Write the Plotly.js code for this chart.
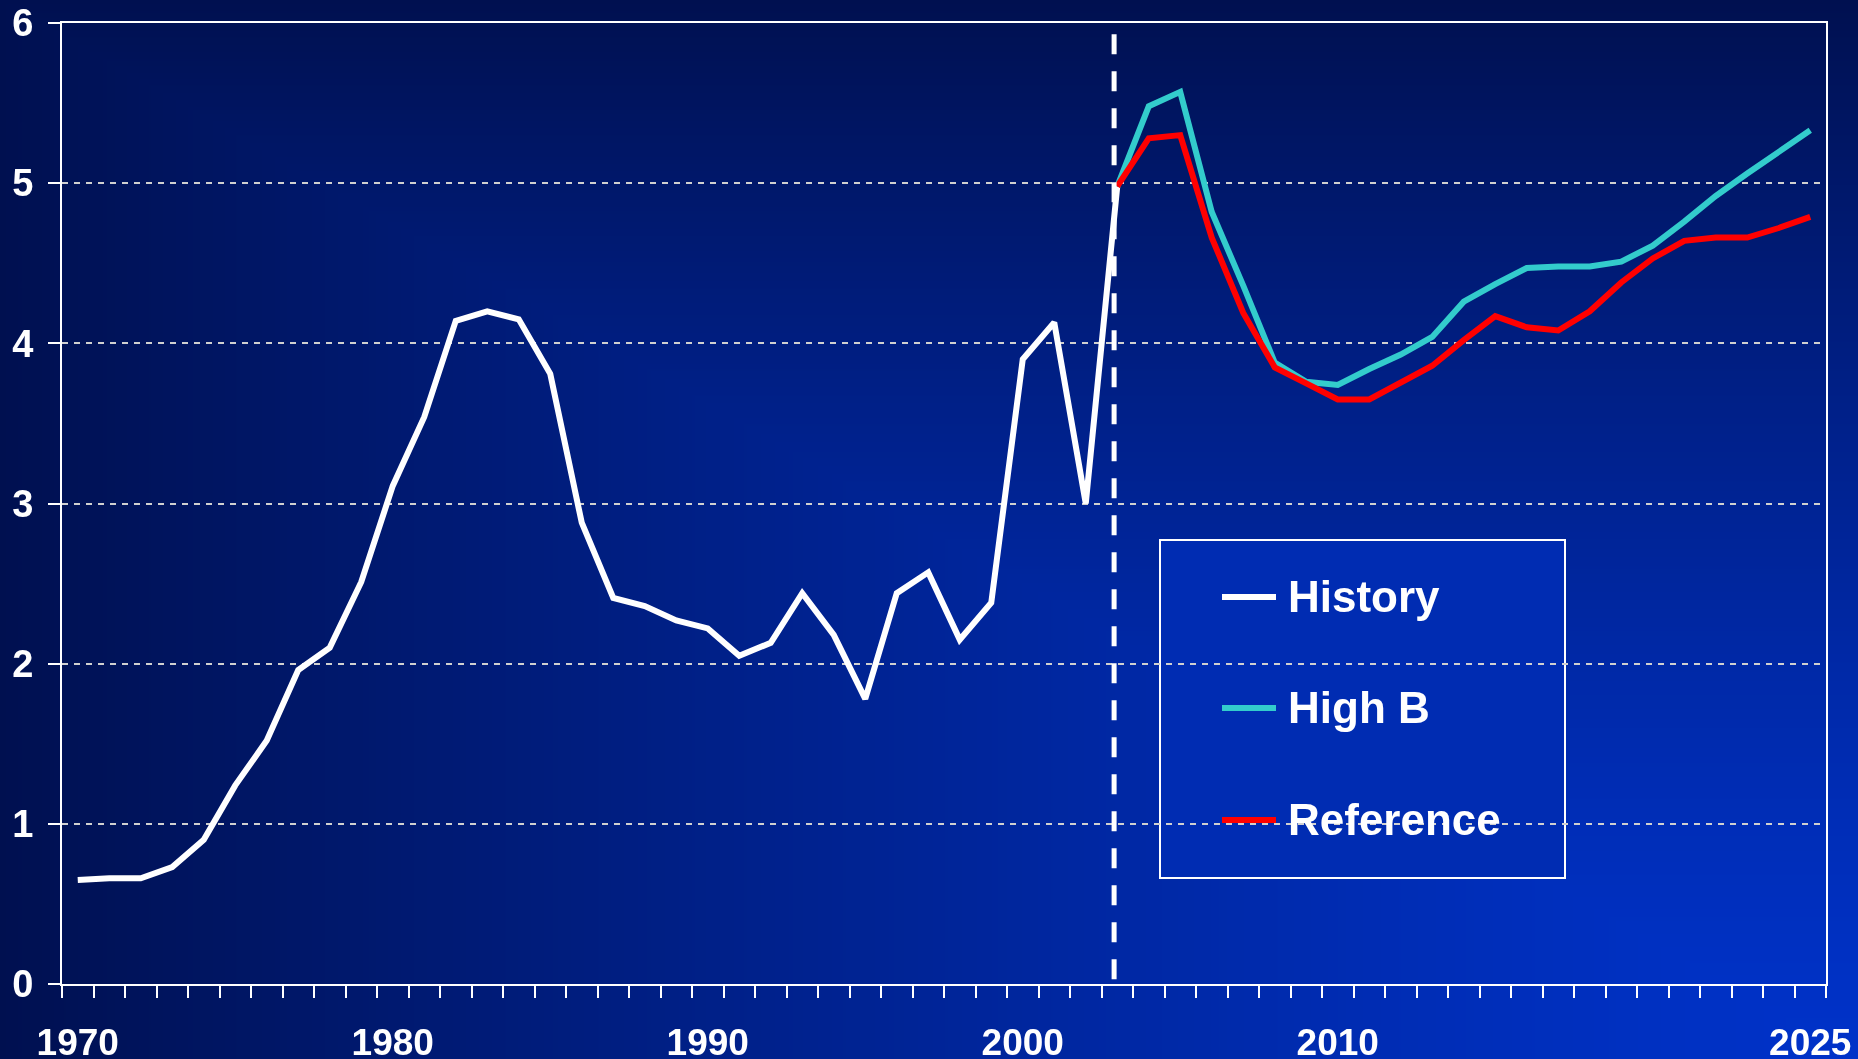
<!DOCTYPE html>
<html>
<head>
<meta charset="utf-8">
<script src="https://cdn.plot.ly/plotly-3.0.1.min.js"></script>
<style>
  html, body { margin: 0; padding: 0; background: #001050; }
  #bg { position: absolute; left: 0; top: 0; }
  #chart { position: absolute; left: 0; top: 0; width: 1858px; height: 1059px; }
</style>
</head>
<body>
<canvas id="bg" width="1858" height="1059"></canvas>
<div id="chart"></div>
<script>
// ---- Data ----
const historyYears = [1970,1971,1972,1973,1974,1975,1976,1977,1978,1979,
                      1980,1981,1982,1983,1984,1985,1986,1987,1988,1989,
                      1990,1991,1992,1993,1994,1995,1996,1997,1998,1999,
                      2000,2001,2002,2003];
const historyValues = [0.65,0.66,0.66,0.73,0.90,1.24,1.52,1.96,2.10,2.51,
                       3.11,3.54,4.14,4.20,4.15,3.81,2.88,2.41,2.36,2.27,
                       2.22,2.05,2.13,2.44,2.18,1.78,2.44,2.57,2.15,2.38,
                       3.90,4.13,3.00,4.98];
const projYears = [2003,2004,2005,2006,2007,2008,2009,2010,2011,2012,
                   2013,2014,2015,2016,2017,2018,2019,2020,2021,2022,
                   2023,2024,2025];
const highBValues = [4.98,5.48,5.57,4.82,4.36,3.88,3.76,3.74,3.84,3.93,
                     4.04,4.26,4.37,4.47,4.48,4.48,4.51,4.61,4.76,4.92,
                     5.06,5.20,5.33];
const referenceValues = [4.98,5.28,5.30,4.66,4.19,3.85,3.75,3.65,3.65,3.75,
                         3.86,4.02,4.17,4.10,4.08,4.20,4.38,4.53,4.64,4.66,
                         4.66,4.72,4.79];
const seriesNames = ['History', 'High B', 'Reference'];
const seriesColors = ['#ffffff', '#33cccc', '#ff0000'];
const xTickVals = [1970, 1980, 1990, 2000, 2010, 2025];
const xTickText = ['1970', '1980', '1990', '2000', '2010', '2025'];
const yTickVals = [0, 1, 2, 3, 4, 5, 6];
const forecastStartYear = 2002.9;

// ---- Background gradient (from bottom-right corner, rectangular) ----
(function () {
  const c = document.getElementById('bg');
  const ctx = c.getContext('2d');
  const W = c.width, H = c.height;
  const img = ctx.createImageData(W, H);
  const dark = [0, 16, 80], bright = [0, 50, 200];
  for (let y = 0; y < H; y++) {
    const v = (H - y) / H;
    for (let x = 0; x < W; x++) {
      const u = (W - x) / W;
      const t = Math.max(u, v);
      const w = Math.pow(t, 1.3);
      const i = (y * W + x) * 4;
      img.data[i] = bright[0] * (1 - w) + dark[0] * w;
      img.data[i + 1] = bright[1] * (1 - w) + dark[1] * w;
      img.data[i + 2] = bright[2] * (1 - w) + dark[2] * w;
      img.data[i + 3] = 255;
    }
  }
  ctx.putImageData(img, 0, 0);
})();

// ---- Chart ----
const fontFam = '"Liberation Sans", Arial, sans-serif';
const seriesX = [historyYears, projYears, projYears];
const seriesY = [historyValues, highBValues, referenceValues];
const traces = seriesNames.map((name, k) => ({
  x: seriesX[k], y: seriesY[k], type: 'scatter', mode: 'lines', name: name,
  line: { color: seriesColors[k], width: 6 }, showlegend: false
}));

// plot-area pixel geometry (for the legend box placement)
const W = 1858, H = 1059;
const M = { l: 62, r: 32, t: 23, b: 75 };
const pw = W - M.l - M.r, ph = H - M.t - M.b;
const px = (x) => (x - M.l) / pw;        // pixel -> paper x
const py = (y) => (H - M.b - y) / ph;    // pixel -> paper y

const legendRows = [597, 708, 820];
const shapes = [
  { type: 'line', xref: 'x', yref: 'y', x0: forecastStartYear, x1: forecastStartYear,
    y0: 0.03, y1: 5.94, line: { color: '#ffffff', width: 5, dash: '20px,17px' }, layer: 'above' },
  { type: 'rect', xref: 'paper', yref: 'paper',
    x0: px(1160), x1: px(1565), y0: py(878), y1: py(540),
    line: { color: '#ffffff', width: 2 }, fillcolor: '#002cb2', layer: 'between' }
];
const annotations = [];
seriesNames.forEach((name, k) => {
  shapes.push({ type: 'line', xref: 'paper', yref: 'paper',
    x0: px(1222), x1: px(1276), y0: py(legendRows[k]), y1: py(legendRows[k]),
    line: { color: seriesColors[k], width: 6 }, layer: 'above' });
  annotations.push({ xref: 'paper', yref: 'paper', x: px(1286), y: py(legendRows[k] - 1),
    xanchor: 'left', yanchor: 'middle', showarrow: false, text: name,
    font: { family: fontFam, size: 44, color: '#ffffff', weight: 700 } });
});

const layout = {
  width: W, height: H,
  margin: M,
  paper_bgcolor: 'rgba(0,0,0,0)',
  plot_bgcolor: 'rgba(0,0,0,0)',
  font: { family: fontFam, color: '#ffffff', size: 37, weight: 700 },
  showlegend: false,
  xaxis: {
    range: [1969.5, 2025.5], type: 'linear',
    tickmode: 'array', tickvals: xTickVals, ticktext: xTickText,
    ticks: '', ticklabelstandoff: 25,
    tickfont: { family: fontFam, size: 37, color: '#ffffff', weight: 700 },
    minor: { tickmode: 'linear', tick0: 1969.5, dtick: 1, ticks: 'outside',
             ticklen: 12, tickwidth: 2, tickcolor: '#ffffff', showgrid: false },
    showgrid: false, zeroline: false,
    showline: true, linecolor: '#ffffff', linewidth: 2, mirror: true,
    fixedrange: true
  },
  yaxis: {
    range: [0, 6], tickmode: 'array', tickvals: yTickVals,
    ticks: 'outside', ticklen: 12, tickwidth: 2, tickcolor: '#ffffff',
    ticklabelstandoff: 7,
    tickfont: { family: fontFam, size: 38, color: '#ffffff', weight: 700 },
    showgrid: true, gridcolor: '#d0d0d0', gridwidth: 2, griddash: '6px,6px',
    zeroline: false,
    showline: true, linecolor: '#ffffff', linewidth: 2, mirror: true,
    fixedrange: true
  },
  shapes: shapes,
  annotations: annotations
};

Plotly.newPlot('chart', traces, layout, { staticPlot: true, displayModeBar: false });
</script>
</body>
</html>
